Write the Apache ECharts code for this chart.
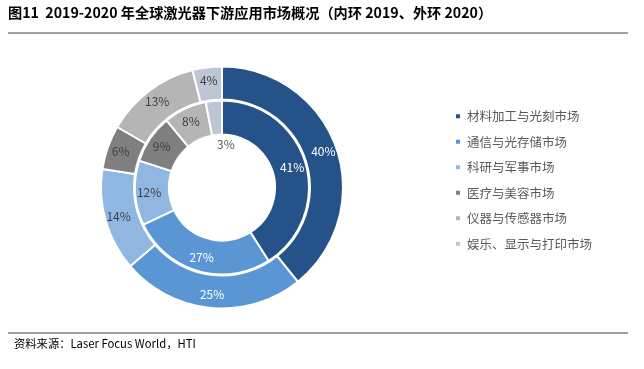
<!DOCTYPE html>
<html><head><meta charset="utf-8">
<style>html,body{margin:0;padding:0;background:#fff}#c{width:644px;height:369px}</style>
<script src="https://cdn.jsdelivr.net/npm/echarts@6/dist/echarts.min.js"></script>
</head><body><div id="c"></div>
<script>
var categories = ['材料加工与光刻市场','通信与光存储市场','科研与军事市场','医疗与美容市场','仪器与传感器市场','娱乐、显示与打印市场'];
var inner2019 = [41, 27, 12, 9, 8, 3];
var outer2020 = [40, 25, 14, 6, 13, 4];
var colors = ['#245289','#5b96d4','#90b7e2','#7f7f7f','#b5b5b5','#bec6d6'];
var labelColors = ['#ffffff','#ffffff','#404040','#404040','#404040','#404040'];
var FONT = '"Noto Sans CJK SC", "Noto Sans", sans-serif';

function build(vals, hideIdx){
  return vals.map(function(v,i){
    return {name: categories[i], value: v,
      itemStyle:{color: colors[i]},
      label:{show: i!==hideIdx, color: labelColors[i]}};
  });
}

var chart = echarts.init(document.getElementById('c'));
chart.setOption({
  animation:false,
  color: colors,
  legend:{orient:'vertical', left:449, top:105, itemWidth:6, itemHeight:6, itemGap:13,
    icon:'rect', textStyle:{fontFamily:FONT, fontSize:12.5, color:'#595959', padding:[0,0,0,1]},
    data: categories},
  graphic:[
    {type:'text', left:8, top:6, style:{text:'图11  2019-2020 年全球激光器下游应用市场概况（内环 2019、外环 2020）', font:'bold 14.2px '+FONT, fill:'#000'}},
    {type:'line', shape:{x1:8,y1:33,x2:628,y2:33}, style:{stroke:'#444', lineWidth:1}},
    {type:'line', shape:{x1:8,y1:333,x2:628,y2:333}, style:{stroke:'#444', lineWidth:1}},
    {type:'text', left:14, top:338, style:{text:'资料来源：Laser Focus World，HTI', font:'11.3px '+FONT, fill:'#000'}},
    {type:'text', left:217, top:138, style:{text: inner2019[5]+'%', font:'12px '+FONT, fill:'#595959'}}
  ],
  series:[
    {type:'pie', center:[222,187.5], radius:[53,87], startAngle:90, clockwise:true,
     label:{position:'inside', formatter:'{c}%', fontFamily:FONT, fontSize:12},
     labelLine:{show:false},
     itemStyle:{borderColor:'#fff', borderWidth:2},
     emphasis:{disabled:true},
     data: build(inner2019, 5)},
    {type:'pie', center:[222,187.5], radius:[88,121], startAngle:90, clockwise:true,
     label:{position:'inside', formatter:'{c}%', fontFamily:FONT, fontSize:12},
     labelLine:{show:false},
     itemStyle:{borderColor:'#fff', borderWidth:2},
     emphasis:{disabled:true},
     data: build(outer2020, -1)}
  ]
});
</script></body></html>
